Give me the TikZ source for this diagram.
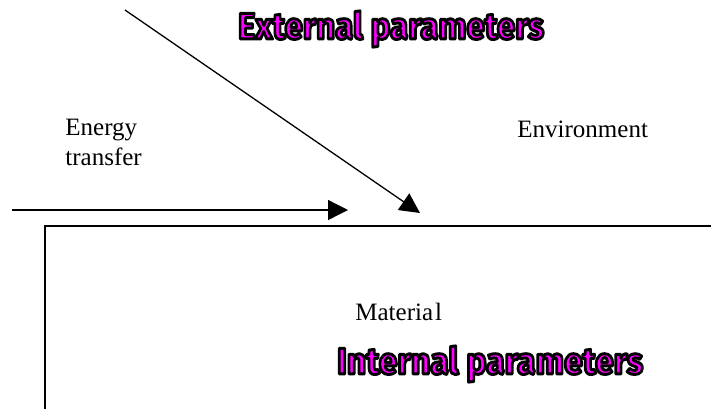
\documentclass[tikz,border=0pt]{standalone}
\usepackage{fontspec}
\setmainfont{Liberation Serif}
\newfontfamily\heavyfont{Fira Sans}
\usepackage{graphicx}
\usetikzlibrary{arrows.meta}
\definecolor{paramcol}{RGB}{255,0,255}
\newcommand{\paramtext}[1]{\resizebox{153pt}{14pt}{\special{pdf:code 2 Tr 0 0 0 RG 0.8 w 1 j}#1\special{pdf:code 0 Tr}}}
\begin{document}
\begin{tikzpicture}[x=0.5pt,y=-0.5pt,
  lbl/.style={inner sep=0pt, anchor=base west, font=\fontsize{12.5pt}{15pt}\selectfont},
  param/.style={inner sep=0pt, font=\heavyfont\bfseries, text=paramcol},
  arr/.style={line width=0.65pt, -{Triangle[length=10pt,width=10pt]}},
  bline/.style={line width=0.9pt}]
\useasboundingbox (0,0) rectangle (711,409);
% labels
\node[lbl] (energy) at (65,135) {Energy};
\node[lbl] (transfer) at (65,165) {transfer};
\node[lbl] (env) at (517,137) {Environment};
\node[lbl] (mat) at (355,320) {Materia\kern1pt l};
\node[param] (ext) at (391,29) {\paramtext{External parameters}};
\node[param] (int) at (490,364) {\paramtext{Internal parameters}};
% connector ends
\coordinate (d1) at (125,10);
\coordinate (d2) at (420,213);
\coordinate (h1) at (12,210);
\coordinate (h2) at (348,210);
\coordinate (r1) at (45,409);
\coordinate (r2) at (45,226);
\coordinate (r3) at (711,226);
\draw[arr] (d1) -- (d2);
\draw[arr] (h1) -- (h2);
\draw[bline] (r1) -- (r2) -- (r3);
\end{tikzpicture}
\end{document}
